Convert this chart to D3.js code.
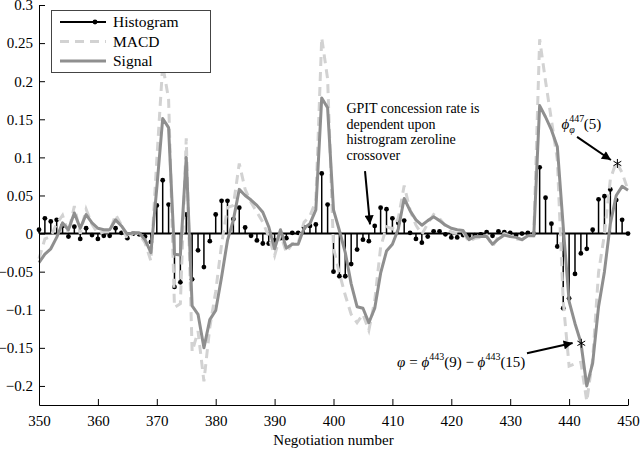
<!DOCTYPE html>
<html><head><meta charset="utf-8">
<script src="https://cdn.jsdelivr.net/npm/d3@7"></script>
<style>
body{margin:0;background:#fff}
svg{display:block}
svg text{font-family:"Liberation Serif","Tinos","Times New Roman","DejaVu Serif",serif !important;fill:#000}
</style>
</head><body>
<svg width="640" height="451"></svg>
<script>
// ---- data ----
const negotiations = d3.range(350, 451);
const histogram = [
  0.005, 0.020, 0.016, 0.018, 0.010,-0.004, 0.009,-0.007, 0.007,-0.002,
 -0.007,-0.003,-0.003, 0.007, 0.001,-0.006, 0.000,-0.001,-0.004,-0.011,
  0.037, 0.070, 0.038,-0.070,-0.064, 0.025,-0.060,-0.022,-0.044,-0.010,
  0.025, 0.043, 0.043, 0.019, 0.034, 0.008,-0.003,-0.009,-0.013,-0.013,
 -0.009,-0.006,-0.006, 0.001, 0.001, 0.008, 0.010, 0.012, 0.079, 0.038,
 -0.050,-0.056,-0.056,-0.040,-0.021,-0.008,-0.010, 0.010, 0.034, 0.032,
  0.020, 0.014, 0.017, 0.001,-0.007,-0.012,-0.004, 0.003, 0.003,-0.001,
 -0.005,-0.005,-0.002,-0.003,-0.002,-0.001, 0.002,-0.003, 0.003, 0.002,
  0.001,-0.002, 0.000, 0.001, 0.000, 0.087, 0.047, 0.013,-0.017,-0.098,
 -0.085,-0.053,-0.026,-0.020, 0.005, 0.045, 0.049, 0.058, 0.044, 0.018,
  0.000];
const macd = [
 -0.033,-0.007,-0.004, 0.013, 0.024, 0.001, 0.036, 0.000, 0.032, 0.012,
  0.000, 0.002, 0.002, 0.025, 0.011,-0.007, 0.001, 0.000,-0.012,-0.036,
  0.097, 0.221, 0.177,-0.097,-0.092, 0.125,-0.155,-0.128,-0.194,-0.123,
 -0.076,-0.014, 0.034, 0.037, 0.092, 0.058, 0.041, 0.028, 0.015,-0.004,
 -0.029,-0.001,-0.025,-0.013,-0.013, 0.015, 0.023, 0.043, 0.257, 0.203,
 -0.019,-0.052,-0.081,-0.106,-0.117,-0.106,-0.127,-0.088,-0.018, 0.009,
  0.006, 0.020, 0.063, 0.031, 0.011,-0.001, 0.013, 0.025, 0.020, 0.010,
  0.002, 0.000, 0.002,-0.011,-0.006,-0.005,-0.002,-0.017,-0.004, 0.000,
 -0.003,-0.007,-0.008,-0.002,-0.003, 0.255, 0.200, 0.149, 0.097,-0.089,
 -0.174,-0.171,-0.169,-0.220,-0.165,-0.051,-0.001, 0.071, 0.094, 0.080,
  0.057];
const signal = [
 -0.038,-0.027,-0.020,-0.005, 0.014, 0.005, 0.027, 0.007, 0.025, 0.014,
  0.007, 0.005, 0.005, 0.018, 0.010,-0.001, 0.001, 0.001,-0.008,-0.025,
  0.060, 0.151, 0.139,-0.027,-0.028, 0.100,-0.095,-0.106,-0.150,-0.113,
 -0.101,-0.057,-0.009, 0.018, 0.058, 0.050, 0.044, 0.037, 0.028, 0.009,
 -0.020, 0.005,-0.019,-0.014,-0.014, 0.007, 0.013, 0.031, 0.178, 0.165,
  0.031, 0.004,-0.025,-0.066,-0.096,-0.098,-0.117,-0.098,-0.052,-0.023,
 -0.014, 0.006, 0.046, 0.030, 0.018, 0.011, 0.017, 0.022, 0.017, 0.011,
  0.007, 0.005, 0.004,-0.008,-0.004,-0.004,-0.004,-0.014,-0.007,-0.002,
 -0.004,-0.005,-0.008,-0.003,-0.003, 0.168, 0.153, 0.136, 0.114, 0.009,
 -0.089,-0.118,-0.143,-0.200,-0.170,-0.096,-0.050, 0.013, 0.050, 0.062,
  0.057];
const xTicks = [350,360,370,380,390,400,410,420,430,440,450];
const yTicks = [-0.2,-0.15,-0.1,-0.05,0,0.05,0.1,0.15,0.2,0.25,0.3];
const legendLabels = ["Histogram","MACD","Signal"];
const xTitle = "Negotiation number";
const noteLines = ["GPIT concession rate is","dependent upon","histrogram zeroline","crossover"];

// ---- layout ----
const FONT = "'Liberation Serif','Tinos','Times New Roman','DejaVu Serif',serif";
const svg = d3.select("svg").style("font-family",FONT);
const x = d3.scaleLinear().domain([350,450]).range([39,628]);
const y = d3.scaleLinear().domain([-0.225,0.3]).range([405,5]);
const C_SIG = "#8f8f8f", C_MACD = "#d2d2d2";

// stems + baseline
const gH = svg.append("g");
gH.append("line").attr("x1",x(350)).attr("x2",x(450)).attr("y1",y(0)).attr("y2",y(0))
  .attr("stroke","#000").attr("stroke-width",2);
gH.selectAll("line.stem").data(negotiations).join("line").attr("class","stem")
  .attr("x1",d=>x(d)).attr("x2",d=>x(d))
  .attr("y1",y(0)).attr("y2",(d,i)=>y(histogram[i]))
  .attr("stroke","#000").attr("stroke-width",1.5);
gH.selectAll("circle").data(negotiations).join("circle")
  .attr("cx",d=>x(d)).attr("cy",(d,i)=>y(histogram[i])).attr("r",2.4).attr("fill","#000");

// MACD dashed
const line = d3.line().x(d=>x(d[0])).y(d=>y(d[1]));
svg.append("path").datum(negotiations.map((d,i)=>[d,macd[i]]))
  .attr("d",line).attr("fill","none").attr("stroke",C_MACD).attr("stroke-width",3)
  .attr("stroke-dasharray","9,6");
// Signal solid
svg.append("path").datum(negotiations.map((d,i)=>[d,signal[i]]))
  .attr("d",line).attr("fill","none").attr("stroke",C_SIG).attr("stroke-width",3)
  .attr("stroke-linejoin","round");

// axes
const fmt = d3.format("~g");
const ax = svg.append("g").attr("transform",`translate(0,${y(-0.225)})`)
  .call(d3.axisBottom(x).tickValues(xTicks).tickSizeInner(-6).tickSizeOuter(0).tickPadding(10));
const ay = svg.append("g").attr("transform",`translate(${x(350)},0)`)
  .call(d3.axisLeft(y).tickValues(yTicks).tickFormat(fmt).tickSizeInner(-6).tickSizeOuter(0).tickPadding(6));
[ax,ay].forEach(g=>{
  g.attr("font-family",FONT).attr("font-size",15);
  g.selectAll("text").attr("fill","#000");
  g.selectAll("line").attr("stroke","#000");
  g.select(".domain").attr("stroke","#000");
});
svg.append("text").attr("x",(x(350)+x(450))/2).attr("y",445).attr("text-anchor","middle")
  .attr("font-size",15).text(xTitle);

// legend
const lg = svg.append("g");
lg.append("rect").attr("x",51.5).attr("y",10.5).attr("width",159).attr("height",62)
  .attr("fill","#fff").attr("stroke","#444").attr("stroke-width",1);
legendLabels.forEach((lab,i)=>{
  const yy = 22 + i*19.5;
  const l = lg.append("line").attr("x1",60).attr("x2",106).attr("y1",yy).attr("y2",yy);
  if(i===0){ l.attr("stroke","#000").attr("stroke-width",2);
    lg.append("circle").attr("cx",95).attr("cy",yy).attr("r",2.4).attr("fill","#000"); }
  if(i===1){ l.attr("stroke",C_MACD).attr("stroke-width",3).attr("stroke-dasharray","9,6"); }
  if(i===2){ l.attr("stroke",C_SIG).attr("stroke-width",3); }
  lg.append("text").attr("x",113).attr("y",yy+5).attr("font-size",15.5).text(lab);
});

// arrowhead marker
svg.append("defs").append("marker").attr("id","ah").attr("viewBox","0 0 10 10")
  .attr("refX",10).attr("refY",5).attr("markerWidth",11).attr("markerHeight",9)
  .attr("markerUnits","userSpaceOnUse").attr("orient","auto")
  .append("path").attr("d","M0,0L10,5L0,10Z").attr("fill","#000");
function arrow(n0,v0,n1,v1){
  svg.append("line").attr("x1",x(n0)).attr("y1",y(v0)).attr("x2",x(n1)).attr("y2",y(v1))
    .attr("stroke","#000").attr("stroke-width",2).attr("marker-end","url(#ah)");
}
function star(n,v){
  const cx=x(n), cy=y(v), r=4.5;
  [90,30,150].forEach(a=>{
    const dx=r*Math.cos(a*Math.PI/180), dy=r*Math.sin(a*Math.PI/180);
    svg.append("line").attr("x1",cx-dx).attr("y1",cy-dy).attr("x2",cx+dx).attr("y2",cy+dy)
      .attr("stroke","#000").attr("stroke-width",1);
  });
}

// annotation 1
const t1 = svg.append("text").attr("font-size",14);
noteLines.forEach((s,i)=>t1.append("tspan").attr("x",x(402.2)).attr("y",y(0.158)+i*15.6).text(s));
arrow(405.35,0.082,406.2,0.012);

// annotation 2
const t2 = svg.append("text").attr("x",x(438.7)).attr("y",y(0.137)).attr("font-size",15);
t2.append("tspan").attr("font-style","italic").text("\u03D5");
t2.append("tspan").attr("font-size",10).attr("dy",-7).text("447");
t2.append("tspan").attr("font-size",10).attr("font-style","italic").attr("dx",-15).attr("dy",11).text("\u03C6");
t2.append("tspan").attr("dx",9).attr("dy",-4).text("(5)");
arrow(441.35,0.127,447.1,0.0965);
star(448.2,0.092);

// annotation 3
const t3 = svg.append("text").attr("x",x(410.8)).attr("y",y(-0.175)).attr("font-size",15);
t3.append("tspan").attr("font-style","italic").text("\u03C6");
t3.append("tspan").text(" = ");
t3.append("tspan").attr("font-style","italic").text("\u03D5");
t3.append("tspan").attr("font-size",10).attr("dy",-7).text("443");
t3.append("tspan").attr("dy",7).text("(9) \u2212 ");
t3.append("tspan").attr("font-style","italic").text("\u03D5");
t3.append("tspan").attr("font-size",10).attr("dy",-7).text("443");
t3.append("tspan").attr("dy",7).text("(15)");
arrow(432.85,-0.157,440.6,-0.1437);
star(442.07,-0.144);
</script>
</body></html>
